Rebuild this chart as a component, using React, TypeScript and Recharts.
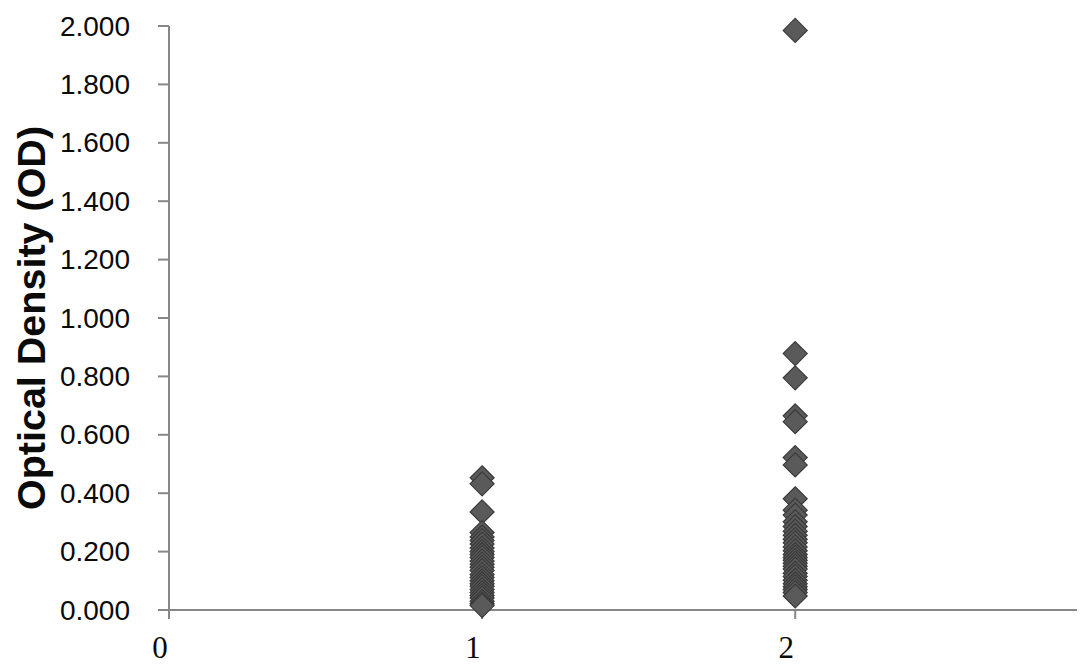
import React from 'react';
import { ScatterChart, Scatter, XAxis, YAxis } from 'recharts';

// Group positions on the x axis
const groupX = [1, 2];

// Optical density values
const group1OD = [
  0.453, 0.432, 0.336, 0.265, 0.25, 0.238, 0.226, 0.212, 0.2, 0.19, 0.18, 0.168,
  0.157, 0.146, 0.135, 0.122, 0.111, 0.1, 0.09, 0.081, 0.07, 0.06, 0.05, 0.041,
  0.03, 0.021, 0.015,
];
const group2OD = [
  1.985, 0.878, 0.795, 0.665, 0.645, 0.522, 0.497, 0.381, 0.342, 0.325, 0.302,
  0.286, 0.27, 0.256, 0.242, 0.23, 0.216, 0.203, 0.19, 0.18, 0.17, 0.16, 0.15,
  0.14, 0.126, 0.115, 0.102, 0.09, 0.08, 0.07, 0.06, 0.048,
];

const yTicks = [0, 0.2, 0.4, 0.6, 0.8, 1.0, 1.2, 1.4, 1.6, 1.8, 2.0];
const xTicks = [0, 1, 2];
const yLabel = 'Optical Density (OD)';

const data1 = group1OD.map((v) => ({ x: groupX[0], y: v }));
const data2 = group2OD.map((v) => ({ x: groupX[1], y: v }));

const AXIS_COLOR = '#878787';
const MARK_FILL = '#5a5a5a';
const MARK_STROKE = '#3a3a3a';

const Diamond = (props: any) => {
  const { cx, cy } = props;
  const r = 12;
  if (cx == null || cy == null) return null;
  const pts = `${cx},${cy - r} ${cx + r},${cy} ${cx},${cy + r} ${cx - r},${cy}`;
  return <polygon points={pts} fill={MARK_FILL} stroke={MARK_STROKE} strokeWidth={1.2} />;
};

const YTick = (props: any) => {
  const { x, y, payload } = props;
  return (
    <text
      x={x}
      y={y}
      textAnchor="end"
      dominantBaseline="central"
      fontFamily="'Liberation Sans', Arial, sans-serif"
      fontSize={28}
      fill="#0a0a0a"
    >
      {Number(payload.value).toFixed(3)}
    </text>
  );
};

const XTick = (props: any) => {
  const { x, y, payload } = props;
  return (
    <text
      x={x - 9}
      y={y + 26}
      textAnchor="middle"
      dominantBaseline="central"
      fontFamily="'Liberation Serif', 'Times New Roman', serif"
      fontSize={31}
      fill="#0a0a0a"
    >
      {payload.value}
    </text>
  );
};

const YLabel = (props: any) => {
  const vb = props.viewBox || {};
  const cx = (vb.x ?? 0) + 31;
  const cy = (vb.y ?? 0) + (vb.height ?? 0) / 2;
  return (
    <text
      x={cx}
      y={cy}
      transform={`rotate(-90, ${cx}, ${cy})`}
      textAnchor="middle"
      dominantBaseline="central"
      fontFamily="'Liberation Sans', Arial, sans-serif"
      fontWeight="bold"
      fontSize={39.5}
      fill="#0a0a0a"
    >
      {yLabel}
    </text>
  );
};

export default function App() {
  return (
    <div style={{ position: 'absolute', left: 0, top: 0, background: '#fff' }}>
      <ScatterChart
        width={1087}
        height={670}
        margin={{ top: 26, right: 10, bottom: 0, left: 0 }}
      >
        <XAxis
          type="number"
          dataKey="x"
          domain={[0, 2.9]}
          ticks={xTicks}
          allowDataOverflow
          height={60}
          stroke={AXIS_COLOR}
          strokeWidth={2}
          tickSize={9}
          tickLine={{ stroke: AXIS_COLOR, strokeWidth: 2 }}
          tick={(p: any) => <XTick {...p} />}
        />
        <YAxis
          type="number"
          dataKey="y"
          domain={[0, 2]}
          ticks={yTicks}
          width={169}
          stroke={AXIS_COLOR}
          strokeWidth={2}
          tickSize={11}
          tickMargin={28}
          tickLine={{ stroke: AXIS_COLOR, strokeWidth: 2 }}
          tick={(p: any) => <YTick {...p} />}
          label={{ content: (p: any) => <YLabel {...p} /> }}
        />
        <Scatter data={data1} isAnimationActive={false} shape={(p: any) => <Diamond {...p} />} />
        <Scatter data={data2} isAnimationActive={false} shape={(p: any) => <Diamond {...p} />} />
      </ScatterChart>
    </div>
  );
}
